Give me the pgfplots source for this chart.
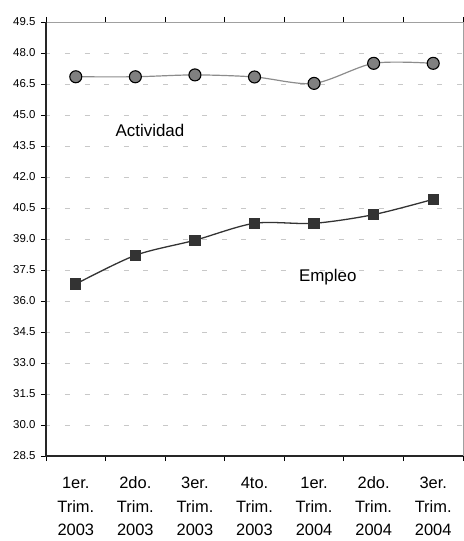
\documentclass[border=0pt]{standalone}
\usepackage{fontspec}
\setmainfont{Liberation Sans}
\usepackage{pgfplots}
\pgfplotsset{compat=1.18}

\definecolor{actfill}{HTML}{808080}
\definecolor{actline}{HTML}{8C8C8C}
\definecolor{empdark}{HTML}{333333}
\definecolor{gridc}{HTML}{C8C8C8}
\definecolor{framec}{HTML}{A0A0A0}

\newcommand{\tl}[3]{#1\strut\\#2\strut\\#3\strut}

\begin{document}
\begin{tikzpicture}
\begin{axis}[
  scale only axis,
  width=417bp, height=434bp,
  xmin=0, xmax=7,
  ymin=28.5, ymax=49.5,
  axis line style={draw=none},
  /pgf/number format/assume math mode=true,
  ytick={28.5,30,31.5,33,34.5,36,37.5,39,40.5,42,43.5,45,46.5,48,49.5},
  yticklabel={\pgfmathprintnumber[fixed,fixed zerofill,precision=1,assume math mode=true]{\tick}},
  yticklabel style={font=\fontsize{11.5}{13}\selectfont, xshift=-2bp},
  xtick={0,1,2,3,4,5,6,7},
  xticklabels={},
  extra x ticks={0.5,1.5,2.5,3.5,4.5,5.5,6.5},
  extra x tick labels={\tl{1er.}{Trim.}{2003},\tl{2do.}{Trim.}{2003},\tl{3er.}{Trim.}{2003},\tl{4to.}{Trim.}{2003},\tl{1er.}{Trim.}{2004},\tl{2do.}{Trim.}{2004},\tl{3er.}{Trim.}{2004}},
  extra x tick style={major tick length=0pt, grid=none,
    xticklabel style={align=center, font=\fontsize{16.5}{23.5}\selectfont, yshift=-13bp}},
  tick align=outside,
  major tick length=5bp,
  tick style={black, line width=0.8pt},
  ymajorgrids=true,
  grid style={gridc, line width=0.8pt, dash pattern=on 5bp off 14.6bp, dash phase=-19bp},
  clip=false,
]
\addplot[actline, line width=1.2pt, smooth, tension=0.5,
  mark=*, mark size=6bp, mark options={fill=actfill, draw=black, line width=1.1pt, solid}]
coordinates {
(0.5,46.85)
(1.5,46.85)
(2.5,46.94)
(3.5,46.84)
(4.5,46.53)
(5.5,47.50)
(6.5,47.50)
};
\addplot[empdark, line width=1.3pt, smooth, tension=0.5,
  mark=square*, mark size=5bp, mark options={fill=empdark, draw=empdark, solid}]
coordinates {
(0.5,36.82)
(1.5,38.21)
(2.5,38.94)
(3.5,39.76)
(4.5,39.76)
(5.5,40.18)
(6.5,40.92)
};
\draw[framec, line width=1pt] (rel axis cs:0,1) -- (rel axis cs:1,1) -- (rel axis cs:1,0);
\draw[black!85, line width=1.3pt] (rel axis cs:0,1) -- (rel axis cs:0,0) -- (rel axis cs:1,0);
\node[font=\fontsize{17}{20}\selectfont] at (axis cs:1.745,44.27) {Actividad};
\node[font=\fontsize{17}{20}\selectfont] at (axis cs:4.73,37.16) {Empleo};
\coordinate (sw) at (rel axis cs:0,0);
\coordinate (ne) at (rel axis cs:1,1);
\end{axis}
\pgfresetboundingbox
\path[use as bounding box] ([xshift=-46bp,yshift=-85bp]sw) rectangle ([xshift=1bp,yshift=22bp]ne);
\end{tikzpicture}
\end{document}
